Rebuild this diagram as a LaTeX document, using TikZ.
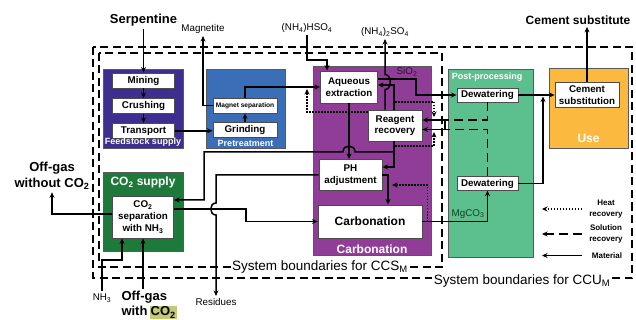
\documentclass[tikz,border=0pt]{standalone}
\usepackage{fontspec}
\setmainfont{Liberation Sans}
\usepackage{xcolor}
\usetikzlibrary{positioning,arrows.meta,calc}
\setlength{\fboxsep}{1pt}

\definecolor{feedcol}{RGB}{62,46,143}
\definecolor{pretcol}{RGB}{58,110,183}
\definecolor{carbcol}{RGB}{143,61,150}
\definecolor{postcol}{RGB}{91,191,142}
\definecolor{usecol}{RGB}{251,185,64}
\definecolor{capcol}{RGB}{30,122,58}
\definecolor{hlcol}{RGB}{196,200,122}
\definecolor{sicol}{RGB}{45,20,50}
\definecolor{mgcol}{RGB}{20,65,38}

\begin{document}
\begin{tikzpicture}[
    x=1pt, y=-1pt,
    >={Stealth[length=5.5pt,width=5pt]},
    group/.style={rectangle, draw=black!65, line width=0.8pt, inner sep=0pt},
    unit/.style={rectangle, draw=black!70, fill=white, line width=0.9pt, inner sep=0pt, align=center, font=\bfseries\fontsize{9.8}{11.5}\selectfont},
    tag/.style={inner sep=0pt, text=white, font=\bfseries\fontsize{9}{10}\selectfont},
    bigtag/.style={inner sep=0pt, text=white, font=\bfseries\fontsize{12}{13}\selectfont},
    heading/.style={inner sep=0pt, outer sep=2.5pt, align=center, font=\bfseries\fontsize{13}{16}\selectfont},
    note/.style={inner sep=0pt, outer sep=2.5pt, font=\fontsize{9.8}{11}\selectfont},
    key/.style={inner sep=0pt, align=center, font=\bfseries\fontsize{8}{11}\selectfont},
    arrow/.style={->, line width=1.5pt},
    flow/.style={line width=1.5pt},
    heat/.style={->, line width=1.6pt, dash pattern=on 1.5pt off 1.5pt},
    solution/.style={line width=1.6pt, dash pattern=on 9pt off 5pt},
    boundary/.style={line width=1.8pt, dash pattern=on 8pt off 4.5pt},
    bound label/.style={fill=white, inner sep=1.5pt, font=\fontsize{13.5}{15}\selectfont}
]
\useasboundingbox (0,0) rectangle (636,320);

% System boundaries
\draw[boundary] (93,47) rectangle (632,278);
\draw[boundary] (99,53) rectangle (442,267);
\node[bound label] (ccslabel) at (320,267) {System boundaries for CCS\textsubscript{M}};
\node[bound label] (cculabel) at (522,281) {System boundaries for CCU\textsubscript{M}};

% Feedstock supply
\node[group, fill=feedcol, minimum width=80pt, minimum height=79pt] (feedstock) at (143,108.5) {};
\node[unit, minimum width=62pt, minimum height=15pt] (mining) at (143.5,80.5) {Mining};
\node[unit, minimum width=62pt, minimum height=15pt, below=9.5pt of mining] (crushing) {Crushing};
\node[unit, minimum width=62pt, minimum height=15pt, below=9pt of crushing] (transport) {Transport};
\node[tag, above=1.5pt of feedstock.south] (feedtag) {Feedstock supply};

% Pretreatment
\node[group, fill=pretcol, minimum width=79pt, minimum height=79pt] (pretreat) at (245.5,108.5) {};
\node[unit, minimum width=64pt, minimum height=15pt, font=\bfseries\fontsize{6.6}{8}\selectfont] (magsep) at (245,105.5) {Magnet separation};
\node[unit, minimum width=64pt, minimum height=15pt, below=9pt of magsep] (grinding) {Grinding};
\node[tag, above=1.5pt of pretreat.south] (prettag) {Pretreatment};

% Carbonation
\node[group, fill=carbcol, minimum width=118pt, minimum height=189pt] (carbgroup) at (372,160.5) {};
\node[unit, minimum width=57pt, minimum height=32pt] (aqueous) at (349,87) {Aqueous\\extraction};
\node[unit, minimum width=54pt, minimum height=31pt] (reagent) at (395,125.5) {Reagent\\recovery};
\node[unit, minimum width=63pt, minimum height=31pt] (ph) at (350.5,175) {PH\\adjustment};
\node[unit, minimum width=104pt, minimum height=33pt, font=\bfseries\fontsize{12}{14}\selectfont] (carb) at (370,221.5) {Carbonation};
\node[bigtag, above=2pt of carbgroup.south] (carbtag) {Carbonation};
\node[note, text=sicol] (sio2) at (407,72) {SiO\textsubscript{2}};

% Post-processing
\node[group, fill=postcol, minimum width=85pt, minimum height=188pt] (post) at (490.5,163) {};
\node[unit, minimum width=61pt, minimum height=14pt] (dew1) at (487.5,95) {Dewatering};
\node[unit, minimum width=61pt, minimum height=13.5pt] (dew2) at (487.5,183.5) {Dewatering};
\node[tag, anchor=north west] (posttag) at ([shift={(4pt,-4pt)}]post.north west) {Post-processing};
\node[note, text=mgcol] (mgco3) at (468,214) {MgCO\textsubscript{3}};

% Use
\node[group, fill=usecol, minimum width=79pt, minimum height=80pt] (use) at (588.5,108) {};
\node[unit, minimum width=64pt, minimum height=25pt] (cement) at (587,95) {Cement\\substitution};
\node[bigtag, above=6pt of use.south] (usetag) {Use};

% CO2 supply
\node[group, fill=capcol, minimum width=80pt, minimum height=79pt] (co2supply) at (143,211.5) {};
\node[unit, minimum width=61pt, minimum height=42pt, font=\bfseries\fontsize{9.8}{12}\selectfont] (co2sep) at (143,217) {CO\textsubscript{2}\\separation\\with NH\textsubscript{3}};
\node[bigtag, below=5pt of co2supply.north] (co2tag) {CO\textsubscript{2} supply};

% Inputs and outputs
\node[heading] (serp) at (143.5,20) {Serpentine};
\node[heading, font=\bfseries\fontsize{12}{14}\selectfont] (cemsub) at (578,20) {Cement substitute};
\node[note] (magnetite) at (203,29) {Magnetite};
\node[note] (hso) at (307,28) {(NH\textsubscript{4})HSO\textsubscript{4}};
\node[note] (so4) at (385,32) {(NH\textsubscript{4})\textsubscript{2}SO\textsubscript{4}};
\node[heading] (offout) at (52,176) {Off-gas\\without CO\textsubscript{2}};
\node[heading, align=left, anchor=north west, font=\bfseries\fontsize{13}{15}\selectfont] (offin) at (119,289) {Off-gas\\with\,\colorbox{hlcol}{CO\textsubscript{2}}};
\node[note] (nh3) at (102,298) {NH\textsubscript{3}};
\node[note] (resid) at (216,302) {Residues};

% Feedstock and pretreatment flows
\draw[arrow] (serp) -- (mining);
\draw[arrow] (mining) -- (crushing);
\draw[arrow] (crushing) -- (transport);
\draw[arrow] (transport.east) -- (transport.east -| grinding.west);
\draw[arrow] (grinding) -- (magsep);
\draw[arrow] (magsep.west) -| (magnetite.south);
\draw[arrow] (magsep.north) |- (aqueous.west);

% Carbonation flows
\coordinate (hsobend) at (327,60);
\draw[arrow] (hso.south) |- (hsobend) -- (hsobend |- aqueous.north);
\coordinate (sibend) at (416,95);
\draw[arrow] ([yshift=8pt]aqueous.east) -| (sibend) -- (dew1.west);
\draw[arrow] ([xshift=-1pt]reagent.north) |- ([yshift=2pt]aqueous.east);
\draw[arrow] ([xshift=-10pt]reagent.north) -- ++(0,-20) .. controls +(7,0) and +(7,0) .. ++(0,-15) -- (so4.south);
\draw[arrow] (aqueous.south) -- (aqueous.south |- ph.north);
\draw[arrow] ([xshift=-1pt]reagent.south) |- ([yshift=8pt]ph.east);
\coordinate (nhsplit) at (394,152);
\coordinate (nhbend) at (204,152);
\draw[arrow] (nhsplit) -- ($(aqueous.south |- nhsplit)+(6,0)$) .. controls +(0,-8) and +(0,-8) .. ($(aqueous.south |- nhsplit)+(-6,0)$) -- (nhbend) |- ([yshift=17pt]co2sep.east);
\coordinate (residtop) at (216,175);
\draw[arrow] (ph.west) -- (residtop) -- ++(0,28) .. controls +(-7,0) and +(-7,0) .. ++(0,12) -- (resid.north);
\draw[arrow] (ph.east) -| ([xshift=18pt]carb.north);
\coordinate (co2bend) at (246,215);
\draw[arrow] ([yshift=8pt]co2sep.east) -| (co2bend) |- (carb.west);
\draw[arrow] (carb.east) -| (dew2.south);

% Post-processing and use
\draw[arrow] (dew1.east) -- (cement.west);
\coordinate (dewjoin) at (543,96.5);
\draw[arrow] (dew2.east) -| (dewjoin);
\draw[arrow] (cement.north) -- (cement.north |- cemsub.south);

% CO2 supply flows
\draw[arrow] ([yshift=3pt]co2sep.west) -| (offout.south);
\coordinate (nh3turn) at (122,260);
\draw[arrow] (nh3.north) |- (nh3turn) -- (nh3turn |- co2sep.south);
\draw[arrow] (co2sep.south |- offin.north) -- (co2sep.south);

% Heat recovery
\coordinate (heatin) at (307,89);
\draw[heat] ([yshift=13.5pt]reagent.west) -| (heatin);
\coordinate (heatA) at (395,102);
\coordinate (heatB) at (395,146);
\draw[heat] (heatA) -| ++(39,15);
\draw[heat] (heatB) -| ++(39,-14);
\coordinate (heatC) at ($(carb.east)+(5,0)$);
\coordinate (heatCend) at (392,185);
\draw[heat] (heatC) |- (heatCend);

% Solution recovery
\coordinate (solA) at (445,120);
\coordinate (solB) at (445,129.5);
\draw[solution] (dew1.south) |- (solA);
\draw[solution] (dew2.north) |- (solB);
\draw[flow] (solA) -- (solB);
\draw[arrow] (solA) -- (solA -| reagent.east);
\draw[arrow] (solB) -- (solB -| reagent.east);

% Legend
\node[key] (heatkey) at (606,209) {Heat\\recovery};
\node[key] (solkey) at (606,234) {Solution\\recovery};
\node[key] (matkey) at (607,255.5) {Material};
\coordinate (keyx) at (582,0);
\draw[heat] (keyx |- heatkey) -- ++(-40,0);
\draw[solution, ->] (keyx |- solkey) -- ++(-40,0);
\draw[arrow] (keyx |- matkey) -- ++(-40,0);

\end{tikzpicture}
\end{document}
